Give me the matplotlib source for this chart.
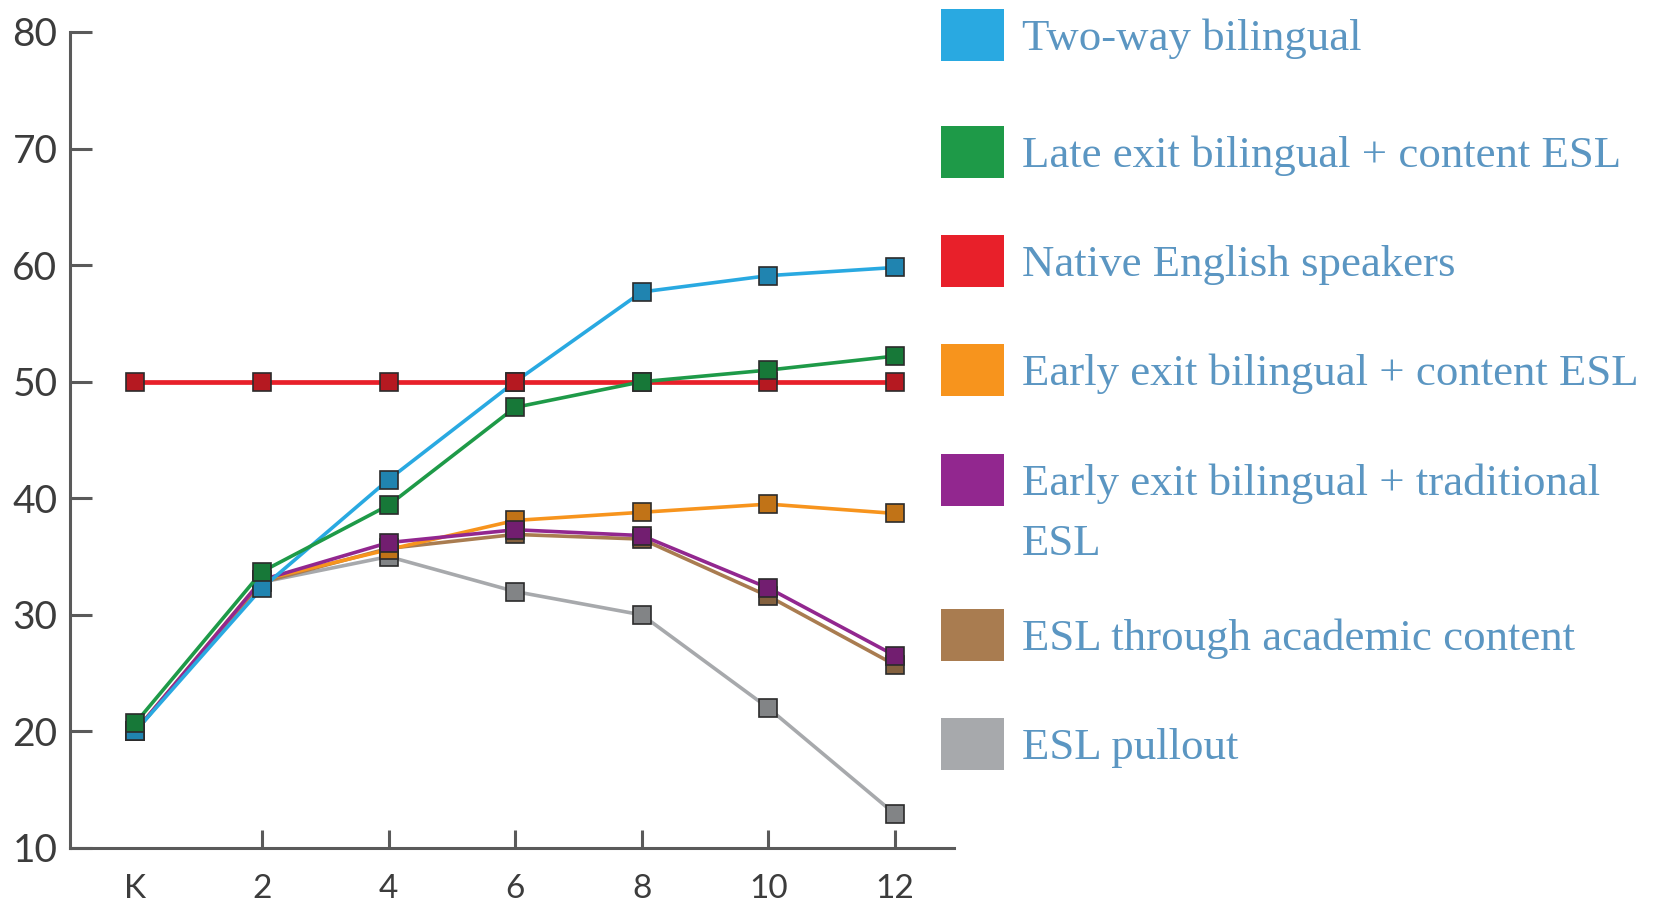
import matplotlib.pyplot as plt
import matplotlib.colors as mcolors
from matplotlib.patches import Rectangle

# Grade levels (K = 0) and the score of each program model at each grade
grades = [0, 2, 4, 6, 8, 10, 12]
grade_labels = ["K", "2", "4", "6", "8", "10", "12"]

two_way = [20.0, 32.3, 41.6, 50.0, 57.7, 59.1, 59.8]
late_exit = [20.7, 33.7, 39.4, 47.8, 50.0, 51.0, 52.2]
native = [50.0, 50.0, 50.0, 50.0, 50.0, 50.0, 50.0]
early_content = [20.0, 33.0, 35.6, 38.1, 38.8, 39.5, 38.7]
early_traditional = [20.0, 33.0, 36.2, 37.3, 36.8, 32.3, 26.5]
esl_academic = [20.0, 32.8, 35.7, 36.9, 36.5, 31.6, 25.7]
esl_pullout = [20.0, 32.8, 35.0, 32.0, 30.0, 22.0, 12.9]

series_names = [
    "Two-way bilingual",
    "Late exit bilingual + content ESL",
    "Native English speakers",
    "Early exit bilingual + content ESL",
    "Early exit bilingual + traditional\nESL",
    "ESL through academic content",
    "ESL pullout",
]
series_values = [two_way, late_exit, native, early_content,
                 early_traditional, esl_academic, esl_pullout]
series_colors = ["#29a9e1", "#1e9a48", "#e8202a", "#f7941d",
                 "#92278f", "#a97c50", "#a7a9ac"]

# back to front
draw_order = [6, 5, 3, 4, 0, 2, 1]


def darker(c, f=0.78):
    r, g, b = mcolors.to_rgb(c)
    return (r * f, g * f, b * f)


W, H = 1653, 908
fig = plt.figure(figsize=(W / 100, H / 100), dpi=100)
ax = fig.add_axes([70 / W, 1 - 848 / H, (954 - 70) / W, (848 - 32) / H])

for i in draw_order:
    lw = 3.4 if i == 2 else 2.6
    ax.plot(grades, series_values[i], color=series_colors[i], lw=lw,
            marker="s", markersize=12.5, markerfacecolor=darker(series_colors[i]),
            markeredgecolor="#2b2b2b", markeredgewidth=1.2, zorder=3 + draw_order.index(i))

ax.set_xlim(-1.03, 12.93)
ax.set_ylim(10, 80)
ax.set_xticks(grades)
ax.set_xticklabels(grade_labels)
ax.set_yticks(range(10, 81, 10))

for s in ["top", "right"]:
    ax.spines[s].set_visible(False)
for s in ["left", "bottom"]:
    ax.spines[s].set_color("#5a5a5a")
    ax.spines[s].set_linewidth(2.2)

ax.tick_params(axis="y", direction="in", length=16, width=2.2, color="#5a5a5a",
               labelsize=28, labelcolor="#3c3c3c", pad=9)
ax.tick_params(axis="x", direction="in", length=13, width=2.2, color="#5a5a5a",
               labelsize=24, labelcolor="#3c3c3c", pad=19)
ax.xaxis.get_major_ticks()[0].tick1line.set_visible(False)
for lab in ax.get_xticklabels() + ax.get_yticklabels():
    lab.set_family("Lato")

# legend on the right: colour swatch + label
row_centers = [35, 152, 261, 370, 480, 635, 744]
text_color = "#5b96c2"
for name, color, yc in zip(series_names, series_colors, row_centers):
    fig.add_artist(Rectangle((941 / W, 1 - (yc + 26) / H), 63 / W, 52 / H,
                             transform=fig.transFigure, facecolor=color,
                             edgecolor="none"))
    lines = name.split("\n")
    for k, line in enumerate(lines):
        fig.text(1022 / W, 1 - (yc + 4 + k * 60) / H, line, fontsize=32.3,
                 family="Liberation Serif", color=text_color,
                 ha="left", va="center")

fig.savefig("out.png", dpi=100)
